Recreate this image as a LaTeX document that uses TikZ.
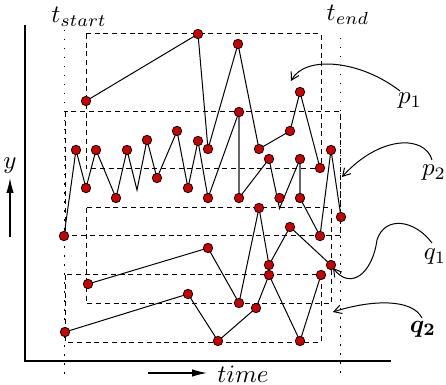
\documentclass[tikz,border=0pt]{standalone}
\usepackage{amsmath}
\usetikzlibrary{arrows.meta,backgrounds}
\definecolor{dotred}{RGB}{204,0,0}
\tikzset{
  dot/.style={circle, draw=black, fill=dotred, inner sep=0pt, minimum size=3.8pt, line width=0.3pt},
  traj/.style={line width=0.4pt, black},
  graytraj/.style={line width=0.8pt, black!60},
  box/.style={line width=0.4pt, dash pattern=on 2pt off 1.5pt},
  guide/.style={line width=0.5pt, dash pattern=on 0.6pt off 3pt},
  axis/.style={line width=0.7pt},
  lbl/.style={inner sep=0pt},
  callout/.style={line width=0.4pt, -{Straight Barb[length=3pt,width=3.5pt]}},
  bigarrow/.style={line width=0.5pt, -{Latex[length=6pt,width=3pt]}}
}
\begin{document}
\begin{tikzpicture}[x=0.4pt,y=-0.4pt]
\useasboundingbox (0,0) rectangle (446,385);

% axes
\coordinate (yaxtop) at (25,25);
\coordinate (origin) at (25,361);
\coordinate (xaxend) at (391,361);
\draw[axis] (yaxtop) -- (origin) -- (xaxend);

% guide lines
\coordinate (ts1) at (64.5,30);
\coordinate (ts2) at (64.5,378);
\coordinate (te1) at (340.5,38);
\coordinate (te2) at (340.5,378);
\draw[guide] (ts1) -- (ts2);
\draw[guide] (te1) -- (te2);

% dashed boxes
\draw[box] (86,34) rectangle (321,169);
\draw[box] (65,112) rectangle (340.5,236);
\draw[box] (86,208) rectangle (331,303);
\draw[box] (65,275) rectangle (321,342);

% p1 points
\node[dot] (a1) at (86,101) {};
\node[dot] (a2) at (198,34) {};
\node[dot] (a3) at (208,149) {};
\node[dot] (a4) at (238,44) {};
\node[dot] (a5) at (259,149) {};
\node[dot] (a6) at (290,131) {};
\node[dot] (a7) at (300,92) {};
\node[dot] (a8) at (320,168) {};

% p2 points
\node[dot] (b1) at (64,236) {};
\node[dot] (b2) at (76,150) {};
\node[dot] (b3) at (86,188) {};
\node[dot] (b4) at (96,150) {};
\node[dot] (b5) at (116,198) {};
\node[dot] (b6) at (127,150) {};
\coordinate (bv1) at (137,190);
\node[dot] (b7) at (147,140) {};
\node[dot] (b8) at (157,178) {};
\node[dot] (b9) at (177,131) {};
\node[dot] (b10) at (188,188) {};
\node[dot] (b11) at (198,141) {};
\node[dot] (b12) at (208,198) {};
\node[dot] (b13) at (239,112) {};
\node[dot] (b14) at (239,198) {};
\node[dot] (b15) at (269,159) {};
\coordinate (bv2) at (279.5,208.5);
\node[dot] (bc) at (279.5,198) {};
\node[dot] (b16) at (300,159) {};
\node[dot] (b17) at (300,198) {};
\node[dot] (b18) at (320,236) {};
\node[dot] (b19) at (331,150) {};
\node[dot] (b20) at (341,217) {};

% q1 points
\node[dot] (c1) at (88,284) {};
\node[dot] (c2) at (208,248) {};
\node[dot] (c3) at (239,303) {};
\node[dot] (c4) at (259,208) {};
\node[dot] (c5) at (269,265) {};
\node[dot] (c6) at (290,227) {};
\node[dot] (c7) at (331,265) {};

% q2 points
\node[dot] (d1) at (65,332) {};
\node[dot] (d2) at (188,294) {};
\node[dot] (d3) at (218,341) {};
\node[dot] (d4) at (256,308) {};
\node[dot] (d5) at (269,275) {};
\node[dot] (d6) at (300,341) {};
\node[dot] (d7) at (321,275) {};

\begin{scope}[on background layer]
\draw[traj] (a1.center) -- (a2.center) -- (a3.center) -- (a4.center) -- (a5.center) -- (a6.center) -- (a7.center) -- (a8.center);
\draw[traj] (b1.center) -- (b2.center) -- (b3.center) -- (b4.center) -- (b5.center) -- (b6.center) -- (bv1) -- (b7.center) -- (b8.center) -- (b9.center) -- (b10.center) -- (b11.center) -- (b12.center) -- (b13.center);
\draw[graytraj] (b13.center) -- (b14.center);
\draw[traj] (b14.center) -- (b15.center) -- (bv2) -- (b16.center);
\draw[graytraj] (b16.center) -- (b17.center);
\draw[traj] (b17.center) -- (b18.center) -- (b19.center) -- (b20.center);
\draw[traj] (c1.center) -- (c2.center) -- (c3.center) -- (c4.center) -- (c5.center) -- (c6.center) -- (c7.center);
\draw[traj] (d1.center) -- (d2.center) -- (d3.center) -- (d4.center) -- (d5.center) -- (d6.center) -- (d7.center);
\end{scope}

% labels
\node[lbl] (tstart) at (79,17) {$t_{start}$};
\node[lbl] (tend) at (348,15) {$t_{end}$};
\node[lbl] (ylab) at (10,166) {$y$};
\node[lbl] (timelab) at (243,374) {$time$};
\node[lbl] (p1) at (410,101) {$p_1$};
\node[lbl] (p2) at (434,173) {$p_2$};
\node[lbl] (q1) at (435,257) {$q_1$};
\node[lbl] (q2) at (423,329) {$\boldsymbol{q_2}$};

% axis arrows
\coordinate (ya1) at (10,237);
\coordinate (ya2) at (10,178);
\draw[bigarrow] (ya1) -- (ya2);
\coordinate (ta1) at (148,373);
\coordinate (ta2) at (207,373);
\draw[bigarrow] (ta1) -- (ta2);

% callout arrows
\coordinate (p1tip) at (291,81);
\coordinate (p1s) at (400,91);
\draw[callout] (p1s) .. controls (360,60) and (305,55) .. (p1tip);
\coordinate (p2tip) at (342,177);
\coordinate (p2s) at (432,160);
\draw[callout] (p2s) .. controls (425,135) and (380,135) .. (p2tip);
\coordinate (q1tip) at (333,268);
\coordinate (q1s) at (432,243);
\coordinate (q1m) at (377,240);
\draw[callout] (q1s) .. controls (415,220) and (385,215) .. (q1m) .. controls (372,275) and (350,290) .. (q1tip);
\coordinate (q2tip) at (333,312);
\coordinate (q2s) at (422,318);
\draw[callout] (q2s) .. controls (412,298) and (370,300) .. (q2tip);
\end{tikzpicture}
\end{document}
